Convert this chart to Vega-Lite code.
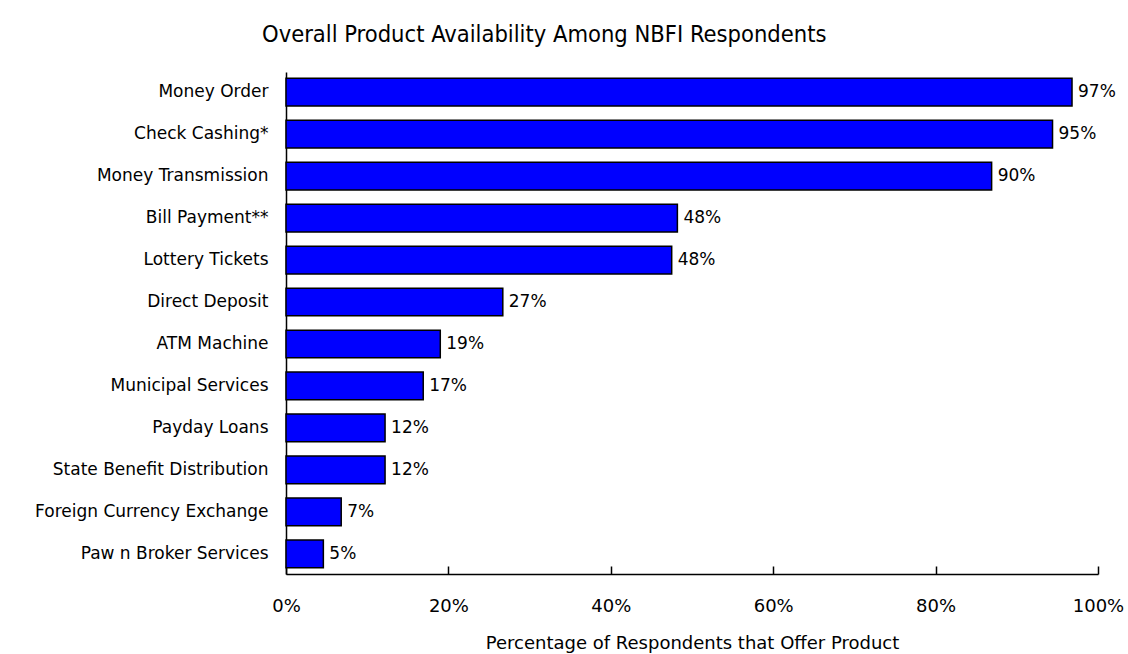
{
  "$schema": "https://vega.github.io/schema/vega-lite/v6.json",
  "autosize": "none",
  "width": 812,
  "height": 502,
  "padding": {"left": 286, "top": 72, "right": 30, "bottom": 80},
  "background": "white",
  "title": {
    "text": "Overall Product Availability Among NBFI Respondents",
    "font": "DejaVu Sans Condensed",
    "fontSize": 23.5,
    "fontWeight": "normal",
    "color": "black",
    "anchor": "start",
    "frame": "group",
    "dx": -24,
    "offset": 26
  },
  "data": {
    "values": [
      {"product": "Money Order", "value": 96.8, "label": "97%"},
      {"product": "Check Cashing*", "value": 94.4, "label": "95%"},
      {"product": "Money Transmission", "value": 86.9, "label": "90%"},
      {"product": "Bill Payment**", "value": 48.2, "label": "48%"},
      {"product": "Lottery Tickets", "value": 47.5, "label": "48%"},
      {"product": "Direct Deposit", "value": 26.7, "label": "27%"},
      {"product": "ATM Machine", "value": 19.0, "label": "19%"},
      {"product": "Municipal Services", "value": 16.9, "label": "17%"},
      {"product": "Payday Loans", "value": 12.2, "label": "12%"},
      {"product": "State Benefit Distribution", "value": 12.2, "label": "12%"},
      {"product": "Foreign Currency Exchange", "value": 6.8, "label": "7%"},
      {"product": "Paw n Broker Services", "value": 4.6, "label": "5%"}
    ]
  },
  "encoding": {
    "y": {
      "field": "product",
      "type": "nominal",
      "sort": null,
      "scale": {"paddingInner": 0.34, "paddingOuter": 0.15},
      "axis": {
        "title": null,
        "ticks": false,
        "domainColor": "black",
        "domainWidth": 1.5,
        "labelFont": "DejaVu Sans",
        "labelFontSize": 17,
        "labelColor": "black",
        "labelPadding": 18,
        "labelLimit": 300
      }
    },
    "x": {
      "field": "value",
      "type": "quantitative",
      "scale": {"domain": [0, 100]},
      "axis": {
        "title": "Percentage of Respondents that Offer Product",
        "titleFont": "DejaVu Sans",
        "titleFontSize": 18,
        "titleFontWeight": "normal",
        "titleColor": "black",
        "titlePadding": 19,
        "values": [0, 20, 40, 60, 80, 100],
        "labelExpr": "datum.value + '%'",
        "labelFlush": false,
        "labelFont": "DejaVu Sans",
        "labelFontSize": 18,
        "labelColor": "black",
        "labelPadding": 31,
        "tickSize": -8,
        "tickColor": "black",
        "tickWidth": 1.5,
        "domainColor": "black",
        "domainWidth": 1.5,
        "grid": false
      }
    }
  },
  "layer": [
    {
      "mark": {"type": "bar", "color": "#0000FF", "stroke": "black", "strokeWidth": 1.5}
    },
    {
      "mark": {"type": "text", "align": "left", "dx": 6, "font": "DejaVu Sans", "fontSize": 17, "color": "black"},
      "encoding": {"text": {"field": "label"}}
    }
  ],
  "config": {"view": {"stroke": null}}
}
